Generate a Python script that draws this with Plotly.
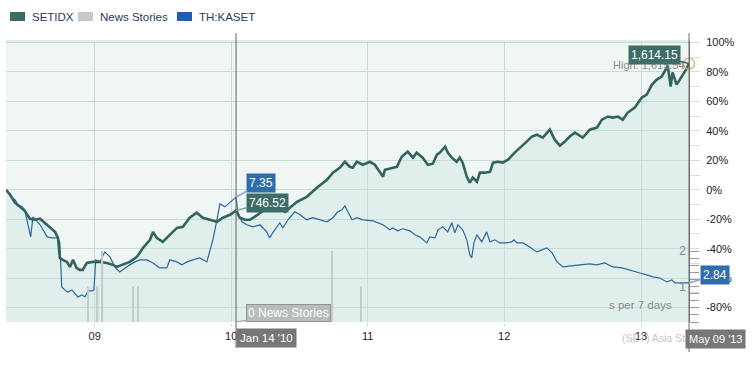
import plotly.graph_objects as go

# ---------------- data ----------------
setidx_dates = [
    "2008-05-09", "2008-05-20", "2008-06-02", "2008-06-15", "2008-06-28", "2008-07-12", "2008-07-25",
    "2008-08-08", "2008-08-21", "2008-09-03", "2008-09-17", "2008-09-25", "2008-09-30", "2008-10-08",
    "2008-10-19", "2008-10-27", "2008-11-04", "2008-11-14", "2008-11-22", "2008-11-30", "2008-12-11",
    "2008-12-27", "2009-01-15", "2009-02-03", "2009-02-19", "2009-03-01", "2009-03-17", "2009-04-05",
    "2009-04-24", "2009-05-10", "2009-05-29", "2009-06-06", "2009-06-16", "2009-07-02", "2009-07-21",
    "2009-08-09", "2009-08-25", "2009-09-12", "2009-10-01", "2009-10-17", "2009-11-05", "2009-11-24",
    "2009-12-10", "2009-12-29", "2010-01-14", "2010-01-24", "2010-02-07", "2010-02-20", "2010-03-13",
    "2010-04-06", "2010-04-22", "2010-05-11", "2010-05-25", "2010-06-07", "2010-06-26", "2010-07-22",
    "2010-08-18", "2010-09-14", "2010-09-30", "2010-10-19", "2010-11-01", "2010-11-14", "2010-11-22",
    "2010-12-03", "2010-12-19", "2011-01-07", "2011-01-20", "2011-02-02", "2011-02-11", "2011-02-16",
    "2011-03-07", "2011-03-20", "2011-04-02", "2011-04-18", "2011-05-02", "2011-05-12", "2011-05-28",
    "2011-06-11", "2011-06-24", "2011-07-05", "2011-07-13", "2011-07-27", "2011-08-03", "2011-08-14",
    "2011-08-27", "2011-09-04", "2011-09-12", "2011-09-23", "2011-10-01", "2011-10-09", "2011-10-20",
    "2011-10-28", "2011-11-10", "2011-11-24", "2011-12-02", "2011-12-15", "2011-12-28", "2012-01-11",
    "2012-01-29", "2012-02-17", "2012-03-01", "2012-03-15", "2012-03-28", "2012-04-13", "2012-05-02",
    "2012-05-15", "2012-05-29", "2012-06-11", "2012-06-24", "2012-07-08", "2012-07-21", "2012-07-29",
    "2012-08-17", "2012-09-05", "2012-09-18", "2012-10-04", "2012-10-17", "2012-10-31", "2012-11-13",
    "2012-11-26", "2012-12-15", "2013-01-03", "2013-01-16", "2013-01-30", "2013-02-12", "2013-02-25",
    "2013-03-11", "2013-03-13", "2013-03-21", "2013-03-26", "2013-04-06", "2013-04-20", "2013-05-01",
    "2013-05-09",
]
setidx_pct = [
    0.0, -3.4, -8.8, -11.6, -14.3, -19.7, -20.4,
    -19.7, -22.4, -25.2, -28.6, -32.7, -46.3, -47.6,
    -49.0, -52.4, -47.6, -53.1, -54.4, -54.4, -49.7,
    -49.0, -49.0, -49.7, -51.0, -52.4, -51.0, -49.0,
    -45.6, -39.5, -34.0, -28.6, -32.7, -35.4, -30.6,
    -25.9, -25.2, -19.0, -15.6, -19.0, -20.4, -21.8,
    -19.0, -17.0, -14.1, -19.0, -20.4, -20.4, -17.0,
    -12.2, -13.6, -11.6, -15.0, -12.2, -8.2, -4.8,
    1.4, 6.8, 11.6, 15.0, 19.0, 15.6, 15.0,
    19.0, 17.0, 19.0, 17.0, 12.2, 8.8, 13.6,
    15.0, 15.6, 22.4, 25.9, 21.8, 25.2, 21.8,
    17.0, 17.7, 23.8, 25.2, 29.3, 25.2, 21.8,
    19.0, 21.8, 18.4, 8.8, 4.8, 8.2, 5.4,
    11.6, 11.6, 12.2, 18.4, 19.0, 18.4, 20.4,
    25.2, 29.3, 32.7, 36.1, 37.4, 35.4, 40.8,
    34.0, 29.9, 32.7, 36.1, 38.8, 36.7, 35.4,
    40.8, 42.2, 47.6, 49.7, 49.0, 49.7, 47.6,
    52.4, 55.8, 62.6, 64.6, 71.4, 74.8, 76.9,
    83.0, 84.5, 70.1, 79.6, 71.4, 76.9, 81.6,
    85.7,
]

kaset_dates = [
    "2008-05-09", "2008-05-14", "2008-05-25", "2008-06-02", "2008-06-10", "2008-06-21", "2008-06-28",
    "2008-07-06", "2008-07-14", "2008-07-20", "2008-07-31", "2008-08-08", "2008-08-16", "2008-08-27",
    "2008-09-09", "2008-09-17", "2008-09-25", "2008-09-30", "2008-10-05", "2008-10-13", "2008-10-21",
    "2008-11-01", "2008-11-09", "2008-11-17", "2008-11-28", "2008-12-06", "2008-12-14", "2008-12-25",
    "2008-12-30", "2009-01-04", "2009-01-15", "2009-01-28", "2009-02-11", "2009-02-24", "2009-03-09",
    "2009-03-23", "2009-04-05", "2009-04-19", "2009-05-02", "2009-05-21", "2009-06-06", "2009-06-24",
    "2009-07-13", "2009-07-21", "2009-08-09", "2009-08-22", "2009-09-05", "2009-09-21", "2009-10-09",
    "2009-10-28", "2009-11-05", "2009-11-13", "2009-11-24", "2009-12-02", "2009-12-15", "2009-12-29",
    "2010-01-14", "2010-01-19", "2010-01-30", "2010-02-12", "2010-02-28", "2010-03-19", "2010-04-06",
    "2010-04-14", "2010-04-22", "2010-05-11", "2010-05-19", "2010-06-02", "2010-06-20", "2010-07-04",
    "2010-07-22", "2010-08-07", "2010-08-26", "2010-09-14", "2010-09-30", "2010-10-13", "2010-10-24",
    "2010-11-01", "2010-11-09", "2010-11-20", "2010-12-03", "2010-12-19", "2011-01-15", "2011-01-28",
    "2011-02-11", "2011-03-01", "2011-03-09", "2011-03-22", "2011-04-05", "2011-04-24", "2011-05-07",
    "2011-05-20", "2011-06-08", "2011-06-16", "2011-06-30", "2011-07-08", "2011-07-21", "2011-08-03",
    "2011-08-14", "2011-08-22", "2011-08-30", "2011-09-12", "2011-09-23", "2011-10-01", "2011-10-06",
    "2011-10-12", "2011-10-20", "2011-11-02", "2011-11-15", "2011-11-24", "2011-12-07", "2011-12-20",
    "2012-01-08", "2012-01-21", "2012-01-27", "2012-02-04", "2012-02-20", "2012-03-09", "2012-03-28",
    "2012-04-11", "2012-04-24", "2012-05-08", "2012-05-21", "2012-06-06", "2012-06-24", "2012-07-21",
    "2012-08-17", "2012-09-05", "2012-09-26", "2012-10-17", "2012-11-11", "2012-12-02", "2012-12-29",
    "2013-01-16", "2013-02-01", "2013-02-20", "2013-03-11", "2013-03-24", "2013-04-01", "2013-04-15",
    "2013-04-28", "2013-05-09",
]
kaset_pct = [
    0.0, -1.4, -5.4, -6.8, -10.2, -11.6, -13.6,
    -23.8, -32.0, -18.4, -21.8, -23.8, -27.2, -32.0,
    -32.7, -32.7, -32.7, -36.1, -66.0, -68.0, -69.4,
    -68.0, -70.7, -72.8, -71.4, -72.8, -68.7, -68.7,
    -68.0, -47.6, -49.0, -42.2, -45.6, -52.4, -55.8,
    -53.1, -51.0, -49.0, -47.6, -47.6, -49.7, -53.1,
    -53.1, -47.6, -49.0, -51.0, -49.0, -47.6, -46.3,
    -49.0, -40.8, -34.0, -20.4, -9.5, -11.6, -8.8,
    -5.0, -15.6, -21.8, -23.8, -25.2, -23.8, -28.6,
    -32.7, -29.3, -22.4, -25.9, -20.4, -15.0, -17.0,
    -20.4, -19.0, -20.4, -21.8, -19.0, -15.0, -13.6,
    -10.9, -15.0, -20.4, -19.0, -20.4, -21.1, -22.4,
    -23.8, -27.2, -25.9, -27.9, -26.5, -27.9, -30.6,
    -32.0, -36.1, -32.0, -32.7, -27.2, -25.2, -28.6,
    -22.4, -29.3, -23.8, -27.2, -34.0, -44.2, -46.3,
    -36.1, -30.6, -35.4, -28.6, -35.4, -34.0, -36.1,
    -36.1, -35.4, -34.0, -36.1, -36.1, -38.8, -42.2,
    -40.8, -39.5, -42.9, -49.0, -52.4, -51.7, -51.0,
    -50.3, -51.0, -49.7, -52.4, -53.1, -54.4, -56.5,
    -57.8, -59.2, -59.9, -62.6, -61.2, -63.3, -63.3,
    -63.3, -63.3,
]

news_dates = ["2008-12-14", "2009-01-09", "2009-01-22", "2009-04-13", "2009-04-27", "2010-09-27", "2010-12-14"]
news_counts = [1, 1, 2, 1, 1, 2, 1]

x_tick_dates = ["2009-01-01", "2010-01-01", "2011-01-01", "2012-01-01", "2013-01-01"]
x_tick_labels = ["09", "10", "11", "12", "13"]
pct_ticks = [-80, -60, -40, -20, 0, 20, 40, 60, 80, 100]
pct_labels = ["-80%", "-60%", "-40%", "-20%", "0%", "20%", "40%", "60%", "80%", "100%"]
pct_minor = [-90, -70, -50, -30, -10, 10, 30, 50, 70, 90]
news_ticks = [0, 0.2, 0.4, 0.6, 0.8, 1, 1.2, 1.4, 1.6, 1.8, 2]
news_labels = ["", "", "", "", "", "1", "", "", "", "", "2"]

cursor_date = "2010-01-14"
end_date = "2013-05-09"
setidx_cursor, kaset_cursor = "746.52", "7.35"
setidx_last, kaset_last, setidx_high = "1,614.15", "2.84", "1,615.54"

# ---------------- layout helpers ----------------
W, H = 752, 366
L, R, T, B = 6, 689, 41, 322
Y_TOP, Y_BOTTOM = 101.0, -89.8
NEWS_TOP = (B - T) / 35.5


def px(x):
    return (x - L) / (R - L)


def py(y):
    return (B - y) / (B - T)


FONT = "Arial, Liberation Sans, sans-serif"
TEAL = "#33635d"
TEAL_BOX = "#3e6c66"
BLUE = "#2b67a3"
BLUE_BOX = "#2f6dab"
GRID = "#c9dcd7"

fig = go.Figure()
# baseline for the area fill
fig.add_trace(go.Scatter(x=setidx_dates, y=[Y_BOTTOM] * len(setidx_dates), mode="lines",
                         line=dict(width=0), hoverinfo="skip", showlegend=False))
fig.add_trace(go.Scatter(x=setidx_dates, y=setidx_pct, mode="lines", line=dict(width=0),
                         fill="tonexty", fillcolor="rgba(196,223,220,0.32)", hoverinfo="skip",
                         showlegend=False))
fig.add_trace(go.Scatter(x=kaset_dates, y=kaset_pct, mode="lines", name="TH:KASET",
                         line=dict(color=BLUE, width=1.2), showlegend=False))
fig.add_trace(go.Scatter(x=setidx_dates, y=setidx_pct, mode="lines", name="SETIDX",
                         line=dict(color=TEAL, width=2.6), showlegend=False))
fig.add_trace(go.Scatter(x=[setidx_dates[-1]], y=[setidx_pct[-1]], mode="markers",
                         marker=dict(symbol="circle-open", size=11, color="#f0a35c", line=dict(width=1.3)),
                         cliponaxis=False, showlegend=False))
fig.add_trace(go.Bar(x=news_dates, y=news_counts, yaxis="y2", name="News Stories",
                     marker=dict(color="#c6cbcb", line=dict(width=0)), width=3.5 * 86400000,
                     showlegend=False))

shapes = [
    dict(type="line", xref="paper", yref="paper", x0=0, x1=1, y0=1, y1=1,
         line=dict(color=GRID, width=1)),
    dict(type="line", xref="x", yref="paper", x0=cursor_date, x1=cursor_date, y0=py(348), y1=py(33),
         line=dict(color="#5f5f5f", width=1)),
    dict(type="line", xref="paper", yref="paper", x0=1, x1=1, y0=py(352), y1=py(33),
         line=dict(color="#6f6f6f", width=1)),
]
legend_items = [("SETIDX", "#3a6b66", 10), ("News Stories", "#c4c9c9", 78), ("TH:KASET", "#1d5fa8", 177)]
annotations = []
for name, color, x0 in legend_items:
    shapes.append(dict(type="rect", xref="paper", yref="paper", x0=px(x0), x1=px(x0 + 15),
                       y0=py(21), y1=py(12), fillcolor=color, line=dict(width=0)))
    annotations.append(dict(text=name, xref="paper", yref="paper", x=px(x0 + 20), y=py(16.5),
                            xanchor="left", yanchor="middle", showarrow=False,
                            font=dict(family=FONT, size=11.5, color="#1f3a5f")))

annotations += [
    dict(text="High: " + setidx_high, xref="paper", yref="paper", x=px(611), y=py(65),
         xanchor="left", yanchor="middle", showarrow=False, font=dict(family=FONT, size=11, color="#8a8a8a")),
    dict(text=setidx_last, x=end_date, y=setidx_pct[-1], xref="x", yref="y", ax=-35, ay=-9,
         showarrow=True, arrowhead=0, arrowwidth=1.5, arrowcolor=TEAL_BOX, bgcolor=TEAL_BOX,
         borderpad=2, font=dict(family=FONT, size=12, color="white")),
    dict(text=kaset_cursor, x=cursor_date, y=kaset_pct[kaset_dates.index(cursor_date)], xref="x", yref="y",
         ax=25, ay=-14, showarrow=True, arrowhead=0, arrowwidth=1.5, arrowcolor="#8aa6c4",
         bgcolor=BLUE_BOX, borderpad=2, font=dict(family=FONT, size=12, color="white")),
    dict(text=setidx_cursor, x=cursor_date, y=setidx_pct[setidx_dates.index(cursor_date)], xref="x", yref="y",
         ax=31, ay=-8, showarrow=True, arrowhead=0, arrowwidth=1.5, arrowcolor="#8aa39f",
         bgcolor=TEAL_BOX, borderpad=2, font=dict(family=FONT, size=12, color="white")),
    dict(text=kaset_last, x=end_date, y=kaset_pct[-1], xref="x", yref="y", ax=26, ay=-8,
         showarrow=True, arrowhead=0, arrowwidth=1.5, arrowcolor="#8aa6c4", bgcolor=BLUE_BOX,
         borderpad=2, font=dict(family=FONT, size=12, color="white")),
    dict(text="0 News Stories", x=cursor_date, y=0, xref="x", yref="y2", ax=52, ay=-9,
         showarrow=True, arrowhead=0, arrowwidth=1, arrowcolor="#9aa0a0", bgcolor="#b7bcbc",
         bordercolor="#8f9494", borderwidth=1, borderpad=1, font=dict(family=FONT, size=12, color="white")),
    dict(text="s per 7 days", xref="paper", yref="paper", x=px(607), y=py(305), xanchor="left",
         yanchor="middle", showarrow=False, font=dict(family=FONT, size=11.5, color="#8a8a8a")),
    dict(text="(SET) Asia Standard Time", xref="paper", yref="paper", x=px(620), y=py(338),
         xanchor="left", yanchor="middle", showarrow=False, font=dict(family=FONT, size=10.5, color="#c6c6c6")),
    dict(text="Jan 14 '10", x=cursor_date, xref="x", y=py(338), yref="paper", xanchor="left",
         yanchor="middle", showarrow=False, bgcolor="#777777", borderpad=3,
         font=dict(family=FONT, size=11.5, color="white")),
    dict(text="May 09 '13", x=end_date, xref="x", xshift=-4, y=py(339), yref="paper", xanchor="left",
         yanchor="middle", showarrow=False, bgcolor="#777777", borderpad=3,
         font=dict(family=FONT, size=11, color="white")),
]

fig.update_layout(
    width=W, height=H,
    margin=dict(l=L, r=W - R, t=T, b=H - B),
    paper_bgcolor="white",
    plot_bgcolor="#eff6f3",
    showlegend=False,
    font=dict(family=FONT, size=11, color="#222"),
    xaxis=dict(type="date", range=["2008-05-09", end_date], tickmode="array",
               tickvals=x_tick_dates, ticktext=x_tick_labels, showgrid=True, gridcolor=GRID,
               gridwidth=1, ticks="outside", ticklen=4, tickcolor="#d3dfdb", zeroline=False,
               showline=False, tickfont=dict(family=FONT, size=11, color="#222")),
    yaxis=dict(side="right", range=[Y_BOTTOM, Y_TOP], tickmode="array", tickvals=pct_ticks,
               ticktext=pct_labels, showgrid=True, gridcolor=GRID, gridwidth=1, zeroline=False,
               showline=True, linecolor="#6f6f6f", linewidth=1, ticks="outside", ticklen=10,
               tickcolor="#dcdcdc", ticklabelstandoff=4,
               minor=dict(tickmode="array", tickvals=pct_minor, ticks="outside", ticklen=10,
                          tickcolor="#dcdcdc", showgrid=False),
               tickfont=dict(family=FONT, size=11, color="#222")),
    yaxis2=dict(overlaying="y", side="right", anchor="x", range=[0, NEWS_TOP], tickmode="array",
                tickvals=news_ticks, ticktext=news_labels, ticklabelposition="inside", ticks="outside",
                ticklen=9, tickcolor="#9a9a9a", showgrid=False, zeroline=False, showline=False,
                tickfont=dict(family=FONT, size=12, color="#888")),
    shapes=shapes,
    annotations=annotations,
)

# the page itself should not add the browser's default 8px body margin
fig.write_html("out.html", config={"displayModeBar": False},
               post_script="document.body.style.margin='0';")
